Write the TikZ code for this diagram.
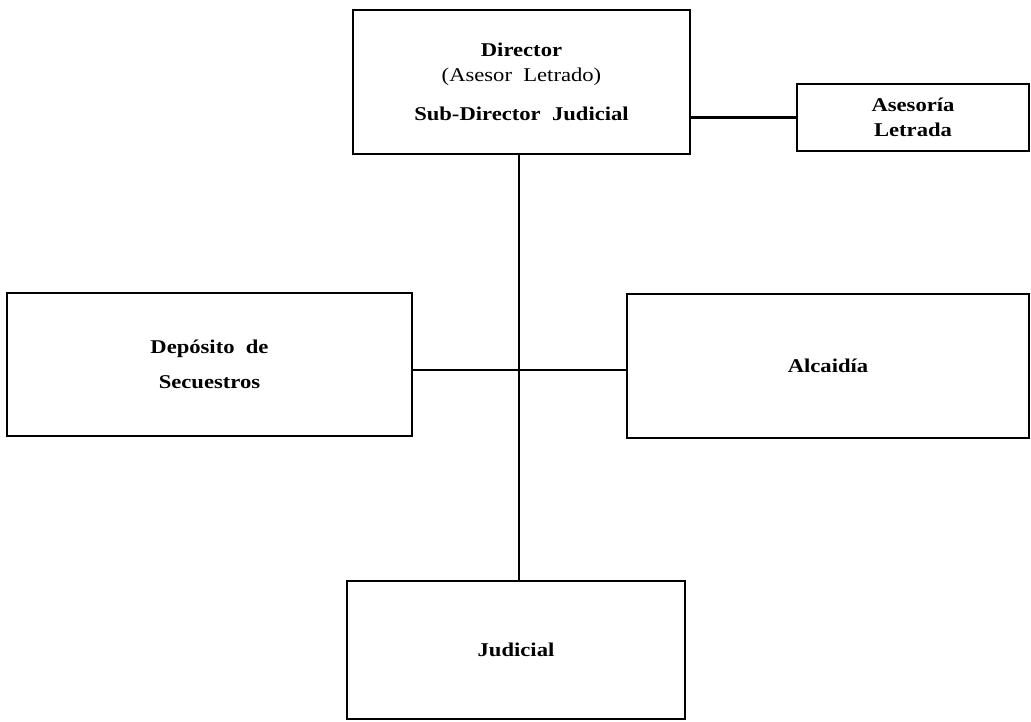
\documentclass[tikz,border=0pt]{standalone}
\usepackage{fontspec}
\setmainfont{Liberation Serif}[FakeStretch=1.16]
\begin{document}
\begin{tikzpicture}[x=1pt,y=-1pt,
  box/.style={draw,line width=2.5pt,rectangle,inner sep=0pt,align=center,font=\fontsize{19.5}{25}\selectfont\bfseries},
  conn/.style={line width=2.5pt}]
\useasboundingbox (0,0) rectangle (1031,722);
\node[box,minimum width=337,minimum height=144,text depth=0pt] (dir) at (521.5,82)
  {Director\\{\mdseries (Asesor\ \ Letrado)}\\[14pt]Sub-Director\ \ Judicial};
\node[box,minimum width=232,minimum height=67] (ase) at (913,117.5) {Asesoría\\Letrada};
\node[box,minimum width=405,minimum height=143,font=\fontsize{19.5}{35}\selectfont\bfseries] (dep) at (209.5,364.5) {Depósito\ \ de\\Secuestros};
\node[box,minimum width=402,minimum height=144,text depth=0pt] (alc) at (828,366) {Alcaidía};
\node[box,minimum width=338,minimum height=138,text depth=0pt] (jud) at (516,650) {Judicial};
\coordinate (j) at (519,370);
\draw[conn] (dir.south -| j) -- (jud.north -| j);
\draw[conn] (dep.east |- j) -- (alc.west |- j);
\draw[conn] (ase.west -| dir.east) -- (ase.west);
\end{tikzpicture}
\end{document}
